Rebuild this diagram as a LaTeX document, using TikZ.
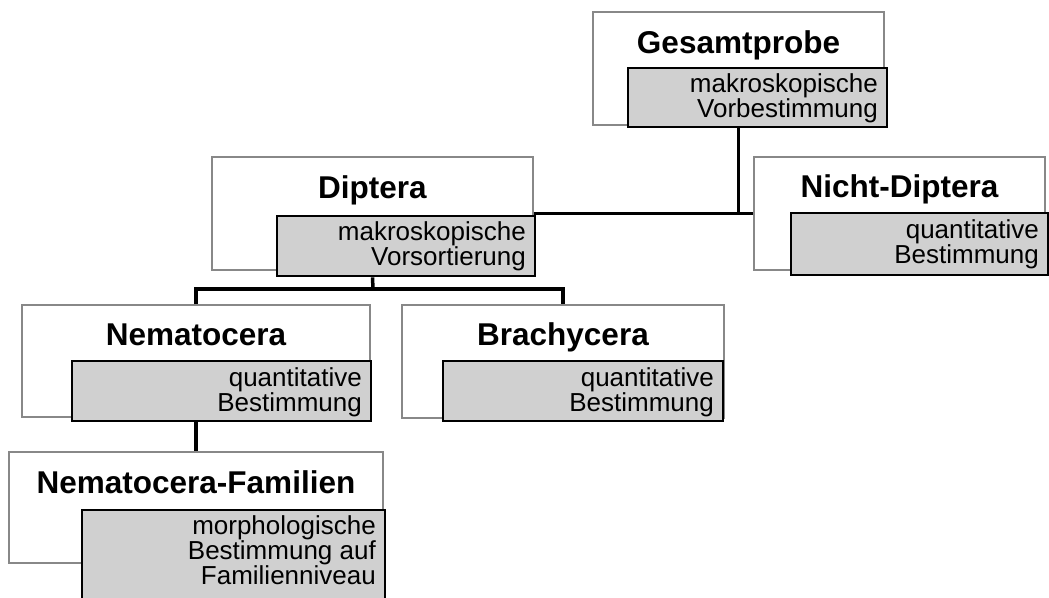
\documentclass[tikz,border=0pt]{standalone}
\usepackage{fontspec}
\setmainfont{Liberation Sans}
\definecolor{boxgray}{RGB}{208,208,208}
\definecolor{framegray}{RGB}{136,136,136}
\tikzset{
  outerbox/.style={draw=framegray, line width=1.2pt, fill=white, inner sep=0pt},
  graybox/.style={draw=black, line width=2.8pt, fill=boxgray, inner sep=0pt},
  titletext/.style={font=\bfseries\fontsize{31.5}{33}\selectfont, anchor=base, inner sep=0pt},
  subtext/.style={font=\fontsize{26}{23.5}\selectfont, align=right, anchor=north east, inner sep=0pt},
  conn/.style={draw=black, line width=3.5pt}
}
\begin{document}
\begin{tikzpicture}[x=1pt,y=-1pt]
\useasboundingbox (0,0) rectangle (1049,597);
\clip (0,0) rectangle (1049,597);
% Gesamtprobe
\node[outerbox, minimum width=291pt, minimum height=113pt] (g) at (738.5,68.5) {};
\node[graybox, minimum width=259pt, minimum height=59pt] (gs) at (757.5,97.5) {};
\node[titletext] (gt) at (738.5,53) {Gesamtprobe};
\node[subtext] (gx) at (878,73) {makroskopische\\Vorbestimmung};
% Diptera
\node[outerbox, minimum width=321pt, minimum height=113pt] (d) at (372.5,213.5) {};
\node[graybox, minimum width=258pt, minimum height=60pt] (ds) at (406,246) {};
\node[titletext] (dt) at (372.5,198) {Diptera};
\node[subtext] (dx) at (526,221) {makroskopische\\Vorsortierung};
% Nicht-Diptera
\node[outerbox, minimum width=291pt, minimum height=113pt] (nd) at (899.5,213.5) {};
\node[graybox, minimum width=257pt, minimum height=62pt] (nds) at (919.5,244) {};
\node[titletext] (ndt) at (899.5,197) {Nicht-Diptera};
\node[subtext] (ndx) at (1039,219) {quantitative\\Bestimmung};
% Nematocera
\node[outerbox, minimum width=348pt, minimum height=112pt] (n) at (196,361) {};
\node[graybox, minimum width=299pt, minimum height=60pt] (ns) at (221.5,391) {};
\node[titletext] (nt) at (196,345) {Nematocera};
\node[subtext] (nx) at (362,367) {quantitative\\Bestimmung};
% Brachycera
\node[outerbox, minimum width=322pt, minimum height=113pt] (b) at (563,361.5) {};
\node[graybox, minimum width=280pt, minimum height=60pt] (bs) at (583,391) {};
\node[titletext] (bt) at (563,345) {Brachycera};
\node[subtext] (bx) at (714,367) {quantitative\\Bestimmung};
% Nematocera-Familien
\node[outerbox, minimum width=374pt, minimum height=111pt] (nf) at (196,507.5) {};
\node[graybox, minimum width=303pt, minimum height=100pt] (nfs) at (233.5,560) {};
\node[titletext] (nft) at (196,493) {Nematocera-Familien};
\node[subtext] (nfx) at (376,515) {morphologische\\Bestimmung auf\\Familienniveau};
% connectors
\coordinate (j2) at (373,289);
\draw[conn] (g.south |- gs.south) -- (g.south |- d.east);
\draw[conn] (d.east) -- (nd.west);
\draw[conn] (d.south |- ds.south) -- (j2);
\draw[conn] (n.north) |- (j2) -| (b.north);
\draw[conn] (n.south |- ns.south) -- (nf.north);
\end{tikzpicture}
\end{document}
